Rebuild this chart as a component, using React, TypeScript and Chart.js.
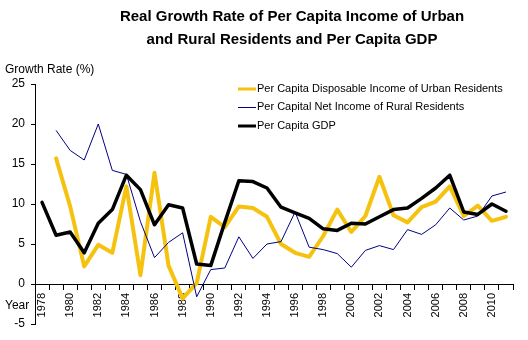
import React, { useEffect, useRef } from 'react';
import { Chart, registerables } from 'chart.js';

Chart.register(...registerables);

const years = [
  '1978', '1979', '1980', '1981', '1982', '1983', '1984', '1985', '1986', '1987',
  '1988', '1989', '1990', '1991', '1992', '1993', '1994', '1995', '1996', '1997',
  '1998', '1999', '2000', '2001', '2002', '2003', '2004', '2005', '2006', '2007',
  '2008', '2009', '2010', '2011',
];

const urbanIncome = [
  null, 15.7, 9.7, 2.2, 4.9, 3.9, 12.2, 1.1, 13.9, 2.3,
  -1.8, 0.1, 8.4, 7.1, 9.7, 9.5, 8.4, 5.0, 3.9, 3.4,
  6.0, 9.3, 6.5, 8.5, 13.4, 8.6, 7.7, 9.6, 10.3, 12.2,
  8.5, 9.8, 7.9, 8.4,
];

const ruralIncome = [
  null, 19.2, 16.7, 15.5, 20.0, 14.2, 13.7, 7.8, 3.3, 5.2,
  6.4, -1.6, 1.8, 2.0, 5.9, 3.2, 5.0, 5.3, 9.0, 4.6,
  4.3, 3.8, 2.1, 4.2, 4.8, 4.3, 6.8, 6.2, 7.4, 9.5,
  8.0, 8.5, 11.0, 11.5,
];

const gdpPerCapita = [
  10.2, 6.1, 6.5, 3.9, 7.6, 9.3, 13.6, 11.8, 7.4, 9.9,
  9.5, 2.5, 2.3, 7.7, 12.9, 12.8, 12.0, 9.6, 8.9, 8.2,
  6.9, 6.7, 7.6, 7.5, 8.4, 9.3, 9.5, 10.7, 12.0, 13.6,
  9.0, 8.7, 10.0, 9.1,
];

const seriesLabels = [
  'Per Capita Disposable Income of Urban Residents',
  'Per Capital Net Income of Rural Residents',
  'Per Capita GDP',
];

const titleLines = [
  'Real Growth Rate of Per Capita Income of Urban',
  'and Rural Residents and Per Capita GDP',
];

const yAxisTitle = 'Growth Rate (%)';
const xAxisTitle = 'Year';

const Y_MIN = -5;
const Y_MAX = 25;
const Y_STEP = 5;

const FONT = "'Liberation Sans', Arial, Helvetica, sans-serif";
const YELLOW = '#F5C30F';
const NAVY = '#000080';
const BLACK = '#000000';

const overlayPlugin = {
  id: 'overlayText',
  afterDraw(chart: any) {
    const ctx = chart.ctx as CanvasRenderingContext2D;
    ctx.save();
    ctx.fillStyle = '#000';
    ctx.textBaseline = 'middle';

    // Title
    ctx.font = `bold 15px ${FONT}`;
    ctx.textAlign = 'center';
    ctx.fillText(titleLines[0], 292, 17);
    ctx.fillText(titleLines[1], 292, 40);

    // Axis titles
    ctx.font = `12px ${FONT}`;
    ctx.textAlign = 'left';
    ctx.fillText(yAxisTitle, 5, 70);
    ctx.fillText(xAxisTitle, 5, 306);

    // Legend
    const items = chart.data.datasets.map((ds: any, i: number) => ({
      label: seriesLabels[i],
      color: ds.borderColor,
      width: ds.borderWidth,
    }));
    const ys = [89, 107, 126];
    ctx.font = `11px ${FONT}`;
    items.forEach((it: any, i: number) => {
      ctx.beginPath();
      ctx.strokeStyle = it.color;
      ctx.lineWidth = it.width === 1 ? 1 : 3;
      const yy = it.width === 1 ? ys[i] + 0.5 : ys[i];
      ctx.moveTo(238, yy);
      ctx.lineTo(256, yy);
      ctx.stroke();
      ctx.fillStyle = '#000';
      ctx.fillText(it.label, 257, ys[i]);
    });
    ctx.restore();
  },
};

export default function App() {
  const canvasRef = useRef<HTMLCanvasElement | null>(null);

  useEffect(() => {
    if (!canvasRef.current) return;
    const chart = new Chart(canvasRef.current, {
      type: 'line',
      data: {
        labels: years,
        datasets: [
          {
            label: seriesLabels[0],
            data: urbanIncome,
            borderColor: YELLOW,
            backgroundColor: YELLOW,
            borderWidth: 4,
            pointRadius: 0,
            tension: 0,
            borderJoinStyle: 'round',
            borderCapStyle: 'round',
            order: 3,
          },
          {
            label: seriesLabels[1],
            data: ruralIncome,
            borderColor: NAVY,
            backgroundColor: NAVY,
            borderWidth: 1,
            pointRadius: 0,
            tension: 0,
            order: 2,
          },
          {
            label: seriesLabels[2],
            data: gdpPerCapita,
            borderColor: BLACK,
            backgroundColor: BLACK,
            borderWidth: 3.5,
            pointRadius: 0,
            tension: 0,
            borderJoinStyle: 'round',
            borderCapStyle: 'round',
            order: 1,
          },
        ],
      },
      options: {
        responsive: false,
        animation: false,
        events: [],
        layout: { padding: { left: 0, right: 15, top: 84, bottom: 16 } },
        plugins: {
          legend: { display: false },
          title: { display: false },
          tooltip: { enabled: false },
        },
        scales: {
          x: {
            type: 'category',
            position: { y: 0 } as any,
            offset: true,
            grid: {
              display: true,
              drawOnChartArea: false,
              drawTicks: true,
              tickLength: 5,
              color: '#000',
              offset: true,
              lineWidth: 1,
            },
            border: { display: true, color: '#000', width: 1 },
            ticks: {
              autoSkip: false,
              maxRotation: 90,
              minRotation: 90,
              padding: 4,
              color: '#000',
              font: { family: FONT, size: 11 },
              callback: function (this: any, value: any, index: number) {
                return index % 2 === 0 ? this.getLabelForValue(value) : '';
              },
            },
          },
          y: {
            min: Y_MIN,
            max: Y_MAX,
            grid: {
              display: true,
              drawOnChartArea: false,
              drawTicks: true,
              tickLength: 4,
              color: '#000',
              lineWidth: 1,
            },
            border: { display: true, color: '#000', width: 1 },
            ticks: {
              stepSize: Y_STEP,
              padding: 6,
              color: '#000',
              font: { family: FONT, size: 12 },
            },
            afterFit: (scale: any) => {
              scale.width = 35;
            },
          },
        },
      },
      plugins: [overlayPlugin],
    } as any);
    return () => chart.destroy();
  }, []);

  return (
    <div
      style={{
        position: 'fixed',
        left: 0,
        top: 0,
        width: 528,
        height: 340,
        background: '#fff',
      }}
    >
      <canvas ref={canvasRef} width={528} height={340} style={{ display: 'block' }} />
    </div>
  );
}
